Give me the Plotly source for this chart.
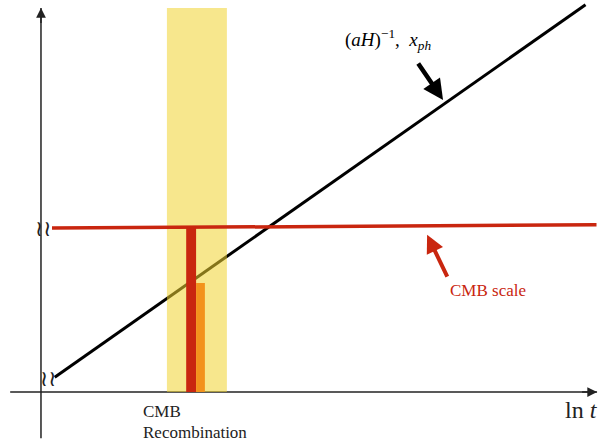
import plotly.graph_objects as go

# Schematic: comoving Hubble radius vs. the fixed CMB scale, against ln t
# Horizontal axis: ln t (arbitrary units); vertical axis: comoving length (arbitrary units)

# Comoving Hubble radius (aH)^-1 / particle horizon: straight rising line
horizon_lnt = [0.25, 9.9]
horizon_len = [0.27, 7.04]

# CMB scale: (almost) constant comoving length
cmb_lnt = [0.2, 10.1]
cmb_len = [2.98, 3.04]

# Recombination epoch band
recomb_lnt = [2.29, 3.38]
band_top = 6.98

# Bars at recombination: CMB scale and the horizon size at that time
bar_lnt = [2.64, 2.82, 2.98]     # edges: red bar [0:2], orange bar [1:3]
bar_len = [2.99, 1.98]

# Axis extents
x_axis = [-0.56, 10.11]
y_axis = [-0.84, 6.98]

RED = "#c9260f"
ORANGE = "#f3921c"
SERIF = "Liberation Serif, Times New Roman, serif"


def rect(x0, x1, y0, y1):
    return [x0, x1, x1, x0, x0], [y0, y0, y1, y1, y0]


fig = go.Figure()

# coordinate axes
fig.add_trace(go.Scatter(x=x_axis, y=[0, 0], mode="lines",
                         line=dict(color="#222", width=1.5), hoverinfo="skip"))
fig.add_trace(go.Scatter(x=[0, 0], y=y_axis, mode="lines",
                         line=dict(color="#222", width=1.5), hoverinfo="skip"))

# horizon line
fig.add_trace(go.Scatter(x=horizon_lnt, y=horizon_len, mode="lines",
                         line=dict(color="black", width=3), hoverinfo="skip"))

# recombination band (translucent)
bx, by = rect(recomb_lnt[0], recomb_lnt[1], 0, band_top)
fig.add_trace(go.Scatter(x=bx, y=by, mode="lines", fill="toself",
                         fillcolor="rgba(240,212,48,0.55)",
                         line=dict(width=0), hoverinfo="skip"))

# CMB scale line
fig.add_trace(go.Scatter(x=cmb_lnt, y=cmb_len, mode="lines",
                         line=dict(color=RED, width=3.5), hoverinfo="skip"))

# bars at recombination
rx, ry = rect(bar_lnt[0], bar_lnt[1], 0, bar_len[0])
fig.add_trace(go.Scatter(x=rx, y=ry, mode="lines", fill="toself",
                         fillcolor=RED, line=dict(width=0), hoverinfo="skip"))
ox, oy = rect(bar_lnt[1], bar_lnt[2], 0, bar_len[1])
fig.add_trace(go.Scatter(x=ox, y=oy, mode="lines", fill="toself",
                         fillcolor=ORANGE, line=dict(width=0), hoverinfo="skip"))

ann = []
# axis arrowheads
ann.append(dict(x=0, y=y_axis[1], ax=0, ay=y_axis[1] - 0.3, xref="x", yref="y",
                axref="x", ayref="y", text="", showarrow=True, arrowhead=2,
                arrowsize=1.3, arrowwidth=1.5, arrowcolor="#222"))
ann.append(dict(x=x_axis[1], y=0, ax=x_axis[1] - 0.3, ay=0, xref="x", yref="y",
                axref="x", ayref="y", text="", showarrow=True, arrowhead=2,
                arrowsize=1.3, arrowwidth=1.5, arrowcolor="#222"))

# pointer to the horizon line
ann.append(dict(x=7.31, y=5.31, ax=6.84, ay=6.0, xref="x", yref="y",
                axref="x", ayref="y", text="", showarrow=True, arrowhead=2,
                arrowsize=0.9, arrowwidth=4.5, arrowcolor="black"))
ann.append(dict(x=6.3, y=6.4, xref="x", yref="y", showarrow=False,
                text="(<i>aH</i>)<sup>−1</sup>,  <i>x</i><sub><i>ph</i></sub>",
                font=dict(family=SERIF, size=19, color="black")))

# pointer to the CMB scale
ann.append(dict(x=7.02, y=2.86, ax=7.4, ay=2.07, xref="x", yref="y",
                axref="x", ayref="y", text="", showarrow=True, arrowhead=2,
                arrowsize=0.9, arrowwidth=4, arrowcolor=RED))
ann.append(dict(x=7.4, y=1.84, xref="x", yref="y", showarrow=False,
                xanchor="left", text="CMB scale",
                font=dict(family=SERIF, size=17, color=RED)))

# break marks
ann.append(dict(x=0.24, y=2.98, xref="x", yref="y", showarrow=False,
                xanchor="right", text="≀≀",
                font=dict(family="DejaVu Sans", size=22, color="#222")))
ann.append(dict(x=0.33, y=0.25, xref="x", yref="y", showarrow=False,
                xanchor="right", text="≀≀",
                font=dict(family="DejaVu Sans", size=22, color="#222")))

# axis labels
ann.append(dict(x=1.82, y=-0.35, xref="x", yref="y", showarrow=False,
                xanchor="left", text="CMB",
                font=dict(family=SERIF, size=17, color="#222")))
ann.append(dict(x=1.82, y=-0.73, xref="x", yref="y", showarrow=False,
                xanchor="left", text="Recombination",
                font=dict(family=SERIF, size=17, color="#222")))
ann.append(dict(x=9.82, y=-0.33, xref="x", yref="y", showarrow=False,
                text="ln <i>t</i>",
                font=dict(family=SERIF, size=24, color="#222")))

fig.update_layout(
    width=603, height=444,
    margin=dict(l=0, r=0, t=0, b=0),
    paper_bgcolor="white", plot_bgcolor="white",
    showlegend=False,
    xaxis=dict(range=[-0.745, 10.218], visible=False, fixedrange=True),
    yaxis=dict(range=[-0.945, 7.127], visible=False, fixedrange=True),
    annotations=ann,
)

fig.write_html("out.html")
